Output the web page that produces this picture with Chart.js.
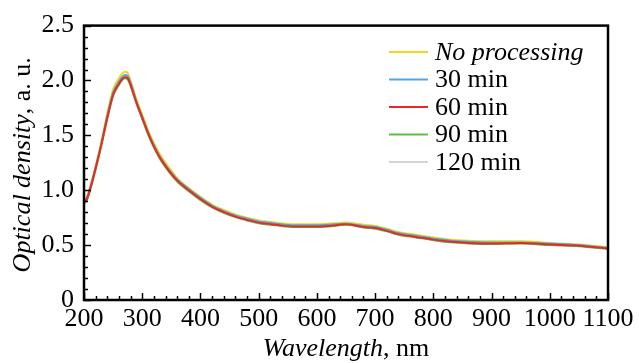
<!DOCTYPE html>
<html>
<head>
<meta charset="utf-8">
<script src="https://cdn.jsdelivr.net/npm/chart.js@4"></script>
<style>
  html, body { margin: 0; padding: 0; background: #fff; }
  #wrap { width: 639px; height: 363px; }
</style>
</head>
<body>
<div id="wrap"><canvas id="chart-1" width="639" height="363"></canvas></div>
<script>
// ====== data ======
const wavelengths = [200, 205, 210, 220, 230, 240, 250, 260, 265, 270,
  275, 280, 290, 300, 310, 320, 330, 340, 350, 360,
  380, 400, 420, 440, 460, 480, 500, 530, 560, 590,
  620, 650, 680, 700, 720, 740, 770, 800, 830, 860,
  900, 950, 1000, 1050, 1100];

const noProcessing = [0.90, 0.94, 1.02, 1.22, 1.45, 1.70, 1.92, 2.02, 2.06, 2.08,
  2.07, 2.00, 1.83, 1.69, 1.55, 1.43, 1.33, 1.25, 1.18, 1.11,
  1.02, 0.94, 0.87, 0.82, 0.78, 0.75, 0.725, 0.705, 0.69, 0.69,
  0.695, 0.705, 0.685, 0.675, 0.65, 0.62, 0.595, 0.57, 0.55, 0.54,
  0.535, 0.535, 0.52, 0.505, 0.48];

const min30 = [0.89, 0.93, 1.01, 1.21, 1.43, 1.68, 1.89, 1.99, 2.03, 2.05,
  2.04, 1.98, 1.81, 1.67, 1.53, 1.41, 1.31, 1.23, 1.16, 1.10,
  1.01, 0.93, 0.86, 0.81, 0.77, 0.74, 0.715, 0.695, 0.68, 0.68,
  0.685, 0.695, 0.675, 0.665, 0.64, 0.61, 0.585, 0.56, 0.54, 0.53,
  0.525, 0.525, 0.515, 0.50, 0.475];

const min60 = [0.89, 0.92, 1.00, 1.20, 1.42, 1.66, 1.87, 1.97, 2.01, 2.03,
  2.02, 1.96, 1.80, 1.66, 1.52, 1.40, 1.30, 1.22, 1.15, 1.09,
  1.00, 0.92, 0.85, 0.80, 0.76, 0.73, 0.705, 0.685, 0.67, 0.67,
  0.675, 0.69, 0.665, 0.655, 0.63, 0.60, 0.575, 0.55, 0.53, 0.52,
  0.515, 0.52, 0.505, 0.495, 0.47];

const min90 = [0.88, 0.91, 0.99, 1.19, 1.41, 1.65, 1.86, 1.96, 2.00, 2.02,
  2.01, 1.95, 1.79, 1.65, 1.51, 1.39, 1.29, 1.21, 1.14, 1.08,
  0.99, 0.91, 0.845, 0.795, 0.755, 0.725, 0.70, 0.68, 0.665, 0.665,
  0.67, 0.685, 0.66, 0.65, 0.625, 0.595, 0.57, 0.545, 0.525, 0.515,
  0.51, 0.515, 0.50, 0.49, 0.465];

const min120 = [0.88, 0.92, 1.00, 1.20, 1.42, 1.66, 1.87, 1.97, 2.01, 2.03,
  2.02, 1.96, 1.80, 1.66, 1.52, 1.40, 1.30, 1.22, 1.15, 1.09,
  1.00, 0.92, 0.85, 0.80, 0.76, 0.73, 0.705, 0.685, 0.67, 0.67,
  0.675, 0.69, 0.665, 0.655, 0.63, 0.60, 0.575, 0.55, 0.53, 0.52,
  0.515, 0.52, 0.505, 0.495, 0.47];

const seriesLabels = ['No processing', '30 min', '60 min', '90 min', '120 min'];
const seriesColors = ['#ecd91c', '#4ea6e3', '#e8282c', '#5cbf3f', '#a8a8a8'];
const xTicks = [200, 300, 400, 500, 600, 700, 800, 900, 1000, 1100];
const yTicks = [0, 0.5, 1.0, 1.5, 2.0, 2.5];

const FONT = "'Liberation Serif', 'Times New Roman', Times, serif";
const FS = 26;

function pts(ys) {
  return wavelengths.map((x, i) => ({ x: x, y: ys[i] }));
}

const allSeries = [noProcessing, min30, min60, min90, min120];
const drawOrder = [4, 3, 0, 2, 1]; // red on top

// frame, inward ticks, legend and axis titles
const framePlugin = {
  id: 'frame',
  afterDatasetsDraw(chart) {
    const c = chart.ctx;
    const a = chart.chartArea;
    const xs = chart.scales.x, ys = chart.scales.y;
    c.save();
    c.strokeStyle = '#000';
    c.lineWidth = 1.5;
    // minor + major ticks, bottom axis
    for (let v = 200; v <= 1100; v += 20) {
      const px = Math.round(xs.getPixelForValue(v)) + 0.5;
      const len = v % 100 === 0 ? 7 : 4;
      c.beginPath();
      c.moveTo(px, a.bottom);
      c.lineTo(px, a.bottom - len);
      c.stroke();
    }
    // left axis
    for (let k = 0; k <= 25; k++) {
      const py = Math.round(ys.getPixelForValue(k / 10)) + 0.5;
      const len = k % 5 === 0 ? 7 : 4;
      c.beginPath();
      c.moveTo(a.left, py);
      c.lineTo(a.left + len, py);
      c.stroke();
    }
    // box
    c.lineWidth = 2.5;
    c.strokeRect(a.left, a.top, a.right - a.left, a.bottom - a.top);

    // legend
    c.textBaseline = 'middle';
    c.textAlign = 'left';
    for (let i = 0; i < seriesLabels.length; i++) {
      const y = 52 + i * 27.5;
      c.strokeStyle = seriesColors[i];
      c.lineWidth = i === 4 ? 1.2 : 2;
      c.beginPath();
      c.moveTo(389, y);
      c.lineTo(428, y);
      c.stroke();
      c.fillStyle = '#000';
      c.font = (i === 0 ? 'italic ' : '') + FS + 'px ' + FONT;
      c.fillText(seriesLabels[i], 435, y + 1);
    }

    // x title
    c.fillStyle = '#000';
    c.textBaseline = 'alphabetic';
    const xi = 'Wavelength', xn = ', nm';
    c.font = 'italic ' + FS + 'px ' + FONT;
    const w1 = c.measureText(xi).width;
    c.font = FS + 'px ' + FONT;
    const w2 = c.measureText(xn).width;
    const sx = (a.left + a.right) / 2 - (w1 + w2) / 2;
    c.font = 'italic ' + FS + 'px ' + FONT;
    c.fillText(xi, sx, 356);
    c.font = FS + 'px ' + FONT;
    c.fillText(xn, sx + w1, 356);

    // y title
    const yi = 'Optical density', yn = ', a. u.';
    c.font = 'italic ' + FS + 'px ' + FONT;
    const h1 = c.measureText(yi).width;
    c.font = FS + 'px ' + FONT;
    const h2 = c.measureText(yn).width;
    c.translate(30, (a.top + a.bottom) / 2 + 2);
    c.rotate(-Math.PI / 2);
    const sy = -(h1 + h2) / 2;
    c.font = 'italic ' + FS + 'px ' + FONT;
    c.fillText(yi, sy, 0);
    c.font = FS + 'px ' + FONT;
    c.fillText(yn, sy + h1, 0);
    c.restore();
  }
};

function drawChart() {
  const ctx1 = document.getElementById('chart-1');
  new Chart(ctx1, {
    type: 'line',
    data: {
      datasets: allSeries.map((s, i) => ({
        label: seriesLabels[i],
        data: pts(s),
        borderColor: seriesColors[i],
        borderWidth: i === 4 ? 1.2 : 2,
        pointRadius: 0,
        cubicInterpolationMode: 'monotone',
        order: drawOrder[i]
      }))
    },
    options: {
      responsive: false,
      animation: false,
      layout: { padding: { left: 0, right: 31, top: 22, bottom: 0 } },
      plugins: {
        legend: { display: false },
        tooltip: { enabled: false }
      },
      scales: {
        x: {
          type: 'linear',
          min: 200,
          max: 1100,
          afterBuildTicks: (s) => { s.ticks = xTicks.map(v => ({ value: v })); },
          afterFit: (s) => { s.height = 63; },
          grid: { display: false, drawTicks: false },
          border: { display: false },
          ticks: {
            color: '#000',
            padding: 4,
            maxRotation: 0,
            autoSkip: false,
            font: { family: FONT, size: FS },
            callback: (v) => String(v)
          }
        },
        y: {
          min: 0,
          max: 2.5,
          afterBuildTicks: (s) => { s.ticks = yTicks.map(v => ({ value: v })); },
          afterFit: (s) => { s.width = 84; },
          grid: { display: false, drawTicks: false },
          border: { display: false },
          ticks: {
            color: '#000',
            padding: 10,
            font: { family: FONT, size: FS },
            callback: (v) => v === 0 ? '0' : v.toFixed(1)
          }
        }
      }
    },
    plugins: [framePlugin]
  });
}

Promise.all([
  document.fonts.load(FS + 'px "Liberation Serif"'),
  document.fonts.load('italic ' + FS + 'px "Liberation Serif"')
]).then(drawChart, drawChart);
</script>
</body>
</html>
